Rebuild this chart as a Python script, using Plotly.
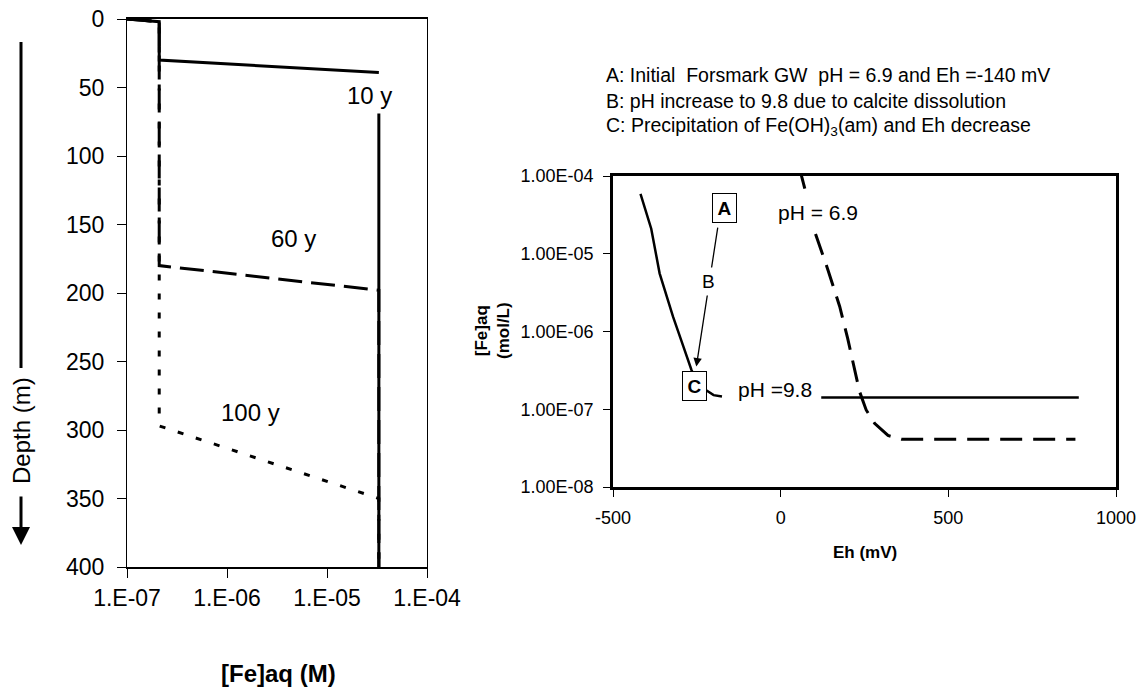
import plotly.graph_objects as go

W, H = 1142, 693

# ---------------- Left panel data: [Fe]aq profile vs depth ----------------
conc_10y = [1e-7, 2.1e-7, 2.1e-7, 3.3e-5, None, 3.3e-5, 3.3e-5]
depth_10y = [0, 2, 30, 39, None, 69, 400]
conc_60y = [1e-7, 2.1e-7, 2.1e-7, 3.3e-5, 3.3e-5]
depth_60y = [0, 2, 180, 198, 400]
conc_100y = [1e-7, 2.1e-7, 2.1e-7, 3.3e-5, 3.3e-5]
depth_100y = [0, 2, 297, 350, 400]

left_xticks = [1e-7, 1e-6, 1e-5, 1e-4]
left_xticktext = ["1.E-07", "1.E-06", "1.E-05", "1.E-04"]
left_yticks = [0, 50, 100, 150, 200, 250, 300, 350, 400]

# ---------------- Right panel data: [Fe]aq vs Eh ----------------
eh_ph98 = [-418, -386, -361, -321, -290, -266, -245, -222, -200, -175, None, 121, 889]
fe_ph98 = [5.9e-5, 2.1e-5, 5.6e-6, 1.55e-6, 6.4e-7, 3.2e-7, 2.1e-7, 1.75e-7, 1.52e-7, 1.46e-7, None, 1.42e-7, 1.42e-7]
eh_ph69 = [59, 72, None, 104, 141, 176, 200, 235, 255, 280, 320, 360, 879]
fe_ph69 = [1.13e-4, 6.9e-5, None, 1.8e-5, 6.2e-6, 2.1e-6, 8.1e-7, 1.7e-7, 9.8e-8, 6.6e-8, 4.6e-8, 4.12e-8, 4.12e-8]

right_yticks = [1e-8, 1e-7, 1e-6, 1e-5, 1e-4]
right_yticktext = ["1.00E-08", "1.00E-07", "1.00E-06", "1.00E-05", "1.00E-04"]
right_xticks = [-500, 0, 500, 1000]
right_xticktext = ["-500", "0", "500", "1000"]

FONT = "Arial, Liberation Sans, Helvetica, sans-serif"


def px(x):
    return x / W


def py(y):
    return 1 - y / H


fig = go.Figure()

# left traces
fig.add_trace(go.Scatter(x=conc_10y, y=depth_10y, mode="lines", xaxis="x", yaxis="y",
                         line=dict(color="black", width=3), showlegend=False))
fig.add_trace(go.Scatter(x=conc_60y, y=depth_60y, mode="lines", xaxis="x", yaxis="y",
                         line=dict(color="black", width=3, dash="24px,9px"), showlegend=False))
fig.add_trace(go.Scatter(x=conc_100y, y=depth_100y, mode="lines", xaxis="x", yaxis="y",
                         line=dict(color="black", width=3, dash="6px,13px"), showlegend=False))

# right traces
fig.add_trace(go.Scatter(x=eh_ph98, y=fe_ph98, mode="lines", xaxis="x2", yaxis="y2",
                         line=dict(color="black", width=2.5), showlegend=False))
fig.add_trace(go.Scatter(x=eh_ph69, y=fe_ph69, mode="lines", xaxis="x2", yaxis="y2",
                         line=dict(color="black", width=3, dash="22px,11px"), showlegend=False))

tickfont_l = dict(family=FONT, size=23, color="black")
tickfont_r = dict(family=FONT, size=18, color="black")

fig.update_layout(
    width=W, height=H,
    margin=dict(l=0, r=0, t=0, b=0, autoexpand=False),
    paper_bgcolor="white", plot_bgcolor="white",
    showlegend=False,
    xaxis=dict(domain=[px(127), px(427)], type="log", range=[-7, -4], automargin=False,
               tickvals=left_xticks, ticktext=left_xticktext, tickfont=tickfont_l,
               ticks="outside", ticklen=9, tickcolor="black", tickwidth=1,
               showline=True, linecolor="black", linewidth=1.5, mirror=True,
               showgrid=False, zeroline=False, anchor="y", ticklabelstandoff=1),
    yaxis=dict(domain=[py(567), py(19)], range=[400, 0], automargin=False,
               tickvals=left_yticks, tickfont=tickfont_l,
               ticks="outside", ticklen=9, tickcolor="black", tickwidth=1,
               showline=True, linecolor="black", linewidth=1.2, mirror=True,
               showgrid=False, zeroline=False, anchor="x", ticklabelstandoff=8),
    xaxis2=dict(domain=[px(613), px(1116)], range=[-500, 1000], automargin=False,
                tickvals=right_xticks, ticktext=right_xticktext, tickfont=tickfont_r,
                ticks="outside", ticklen=7, tickcolor="black", tickwidth=1,
                showline=True, linecolor="black", linewidth=2.5, mirror=True,
                showgrid=False, zeroline=False, anchor="y2", ticklabelstandoff=6),
    yaxis2=dict(domain=[py(487), py(176)], type="log", range=[-8, -4], automargin=False,
                tickvals=right_yticks, ticktext=right_yticktext, tickfont=tickfont_r,
                ticks="outside", ticklen=7, tickcolor="black", tickwidth=1,
                showline=True, linecolor="black", linewidth=2.5, mirror=True,
                showgrid=False, zeroline=False, anchor="x2", ticklabelstandoff=6),
)

ann = []


def add(**kw):
    kw.setdefault("xanchor", "center")
    kw.setdefault("yanchor", "middle")
    ann.append(kw)


# left panel labels (data coords, log x)
add(x=-4.58, y=55.5, xref="x", yref="y", text="10 y", showarrow=False,
    font=dict(family=FONT, size=24, color="black"))
add(x=-5.34, y=160, xref="x", yref="y", text="60 y", showarrow=False,
    font=dict(family=FONT, size=24, color="black"))
add(x=-5.77, y=287, xref="x", yref="y", text="100 y", showarrow=False,
    font=dict(family=FONT, size=24, color="black"))
# left axis titles
add(x=px(278), y=py(673), xref="paper", yref="paper", text="<b>[Fe]aq (M)</b>",
    showarrow=False, font=dict(family=FONT, size=24, color="black"))
add(x=px(21), y=py(431), xref="paper", yref="paper", text="Depth (m)",
    textangle=-90, showarrow=False, font=dict(family=FONT, size=24, color="black"))
# depth arrow (decoration)
ann.append(dict(x=px(21), y=py(545), xref="paper", yref="paper", ax=0, ay=-50,
                text="", showarrow=True, arrowhead=2, arrowsize=1.2, arrowwidth=3, arrowcolor="black"))

# right panel notes
add(x=px(604), y=py(75), xref="paper", yref="paper", xanchor="left",
    text="A: Initial  Forsmark GW  pH = 6.9 and Eh =-140 mV", showarrow=False,
    font=dict(family=FONT, size=19.5, color="black"))
add(x=px(604), y=py(101), xref="paper", yref="paper", xanchor="left",
    text="B: pH increase to 9.8 due to calcite dissolution", showarrow=False,
    font=dict(family=FONT, size=19.5, color="black"))
add(x=px(604), y=py(126), xref="paper", yref="paper", xanchor="left",
    text="C: Precipitation of Fe(OH)<sub>3</sub>(am) and Eh decrease", showarrow=False,
    font=dict(family=FONT, size=19.5, color="black"))

# right axis titles
add(x=px(865), y=py(552), xref="paper", yref="paper", text="<b>Eh (mV)</b>",
    showarrow=False, font=dict(family=FONT, size=17, color="black"))
add(x=px(492), y=py(331), xref="paper", yref="paper", text="<b>[Fe]aq<br>(mol/L)</b>",
    textangle=-90, showarrow=False, font=dict(family=FONT, size=17, color="black"))

# arrow A -> C
ann.append(dict(x=-251.5, y=-6.45, xref="x2", yref="y2", ax=-187, ay=-4.645, axref="x2", ayref="y2",
                text="", showarrow=True, arrowhead=2, arrowsize=1.3, arrowwidth=1.3, arrowcolor="black"))
add(x=-215, y=-5.355, xref="x2", yref="y2", text="B", showarrow=False,
    bgcolor="white", borderpad=3, font=dict(family=FONT, size=19, color="black"))
add(x=-168, y=-4.415, xref="x2", yref="y2", text="<b>A</b>", showarrow=False,
    bgcolor="white", bordercolor="black", borderwidth=1, width=21, height=26, borderpad=1,
    font=dict(family=FONT, size=19, color="black"))
add(x=-256.5, y=-6.70, xref="x2", yref="y2", text="<b>C</b>", showarrow=False,
    bgcolor="white", bordercolor="black", borderwidth=1, width=21, height=26, borderpad=1,
    font=dict(family=FONT, size=19, color="black"))
add(x=111, y=-4.475, xref="x2", yref="y2", text="pH = 6.9", showarrow=False,
    font=dict(family=FONT, size=21, color="black"))
add(x=-18, y=-6.75, xref="x2", yref="y2", text="pH =9.8", showarrow=False,
    font=dict(family=FONT, size=21, color="black"))

fig.update_layout(annotations=ann)

# depth title line (decoration above the text)
fig.add_shape(type="line", xref="paper", yref="paper", x0=px(21), x1=px(21), y0=py(42), y1=py(368),
              line=dict(color="black", width=3))

fig.write_html("out.html")
